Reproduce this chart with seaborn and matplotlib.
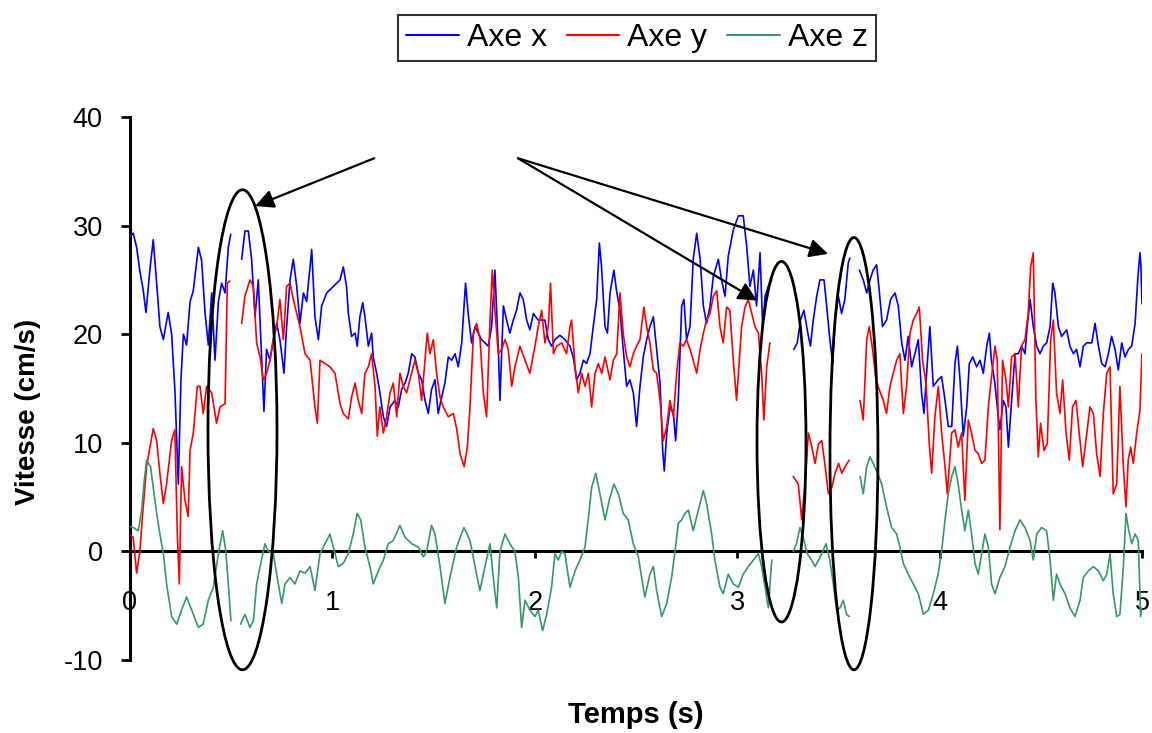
import numpy as np
import pandas as pd
import seaborn as sns
import matplotlib
matplotlib.use("Agg")
import matplotlib.pyplot as plt
from matplotlib.lines import Line2D
from matplotlib.patches import Ellipse

nan = np.nan

# Axe x (blue) : temps (s) / vitesse (cm/s), nan = missing samples
t_x = [
    0.0, 0.016, 0.033, 0.049, 0.066, 0.079, 0.099, 0.115, 0.132, 0.148,
    0.165, 0.189, 0.206, 0.222, 0.239, 0.252, 0.264, 0.280, 0.297, 0.313,
    0.338, 0.354, 0.371, 0.387, 0.404, 0.420, 0.437, 0.453, 0.470, 0.486,
    0.498, 0.520, 0.552, 0.568, 0.585, 0.601, 0.618, 0.634, 0.651, 0.662,
    0.675, 0.692, 0.708, 0.725, 0.741, 0.761, 0.774, 0.791, 0.807, 0.824,
    0.840, 0.857, 0.873, 0.898, 0.914, 0.931, 0.947, 0.972, 1.005, 1.038,
    1.054, 1.070, 1.079, 1.095, 1.112, 1.123, 1.136, 1.150, 1.161, 1.178,
    1.194, 1.202, 1.219, 1.235, 1.252, 1.268, 1.285, 1.309, 1.326, 1.342,
    1.359, 1.375, 1.392, 1.408, 1.425, 1.441, 1.458, 1.474, 1.490, 1.507,
    1.523, 1.540, 1.556, 1.573, 1.589, 1.606, 1.622, 1.639, 1.658, 1.671,
    1.688, 1.705, 1.721, 1.737, 1.754, 1.770, 1.787, 1.803, 1.820, 1.828,
    1.845, 1.861, 1.877, 1.894, 1.910, 1.927, 1.943, 1.960, 1.976, 1.993,
    2.017, 2.050, 2.067, 2.083, 2.100, 2.124, 2.149, 2.174, 2.190, 2.207,
    2.223, 2.240, 2.256, 2.273, 2.289, 2.306, 2.319, 2.330, 2.347, 2.359,
    2.372, 2.391, 2.404, 2.421, 2.437, 2.454, 2.470, 2.487, 2.503, 2.520,
    2.536, 2.553, 2.569, 2.586, 2.602, 2.619, 2.632, 2.640, 2.652, 2.668,
    2.685, 2.696, 2.709, 2.726, 2.737, 2.750, 2.767, 2.783, 2.800, 2.817,
    2.833, 2.849, 2.866, 2.882, 2.907, 2.923, 2.940, 2.956, 2.981, 3.006,
    3.030, 3.047, 3.063, 3.080, 3.096, 3.113, 3.126, 3.138, 3.154, 3.171,
    3.220, 3.280, 3.297, 3.313, 3.330, 3.349, 3.362, 3.376, 3.393, 3.409,
    3.429, 3.439, 3.458, 3.472, 3.483, 3.500, 3.516, 3.532, 3.549, 3.557,
    3.580, 3.604, 3.623, 3.640, 3.656, 3.672, 3.689, 3.702, 3.718, 3.738,
    3.758, 3.780, 3.796, 3.813, 3.829, 3.845, 3.862, 3.878, 3.895, 3.911,
    3.923, 3.936, 3.952, 3.969, 3.993, 4.010, 4.027, 4.043, 4.060, 4.076,
    4.088, 4.101, 4.117, 4.134, 4.147, 4.164, 4.183, 4.200, 4.216, 4.233,
    4.246, 4.256, 4.273, 4.285, 4.298, 4.315, 4.328, 4.340, 4.356, 4.373,
    4.389, 4.405, 4.422, 4.433, 4.447, 4.463, 4.480, 4.496, 4.513, 4.529,
    4.546, 4.559, 4.570, 4.587, 4.603, 4.628, 4.644, 4.661, 4.677, 4.694,
    4.710, 4.727, 4.752, 4.768, 4.785, 4.801, 4.818, 4.834, 4.850, 4.867,
    4.883, 4.900, 4.916, 4.933, 4.949, 4.966, 4.980, 4.990, 4.995, 5.000,
]
v_x = [
    29.0, 29.3, 28.0, 25.8, 24.0, 22.0, 26.0, 28.7, 24.7, 20.7,
    19.5, 22.0, 20.0, 14.9, 6.2, 15.8, 20.0, 19.0, 23.0, 24.0,
    28.0, 26.8, 22.0, 19.0, 23.8, 17.6, 23.0, 24.7, 23.8, 28.0,
    29.2, nan, 26.9, 29.5, 29.5, 26.9, 21.6, 25.0, 17.6, 12.9,
    18.6, 17.6, 19.5, 21.0, 19.5, 16.4, 20.7, 25.0, 26.9, 24.4,
    21.0, 23.8, 23.0, 27.8, 21.6, 19.5, 22.6, 23.8, 24.4, 25.0,
    26.2, 24.4, 21.9, 19.8, 20.1, 18.9, 21.6, 22.9, 21.6, 18.9,
    20.1, 17.9, 16.4, 14.6, 12.4, 11.5, 13.3, 13.9, 13.3, 14.9,
    15.5, 16.4, 18.2, 17.9, 16.4, 15.8, 13.9, 12.7, 14.9, 15.8,
    12.7, 14.2, 15.5, 17.9, 17.6, 18.2, 17.0, 19.2, 24.7, 21.9,
    19.2, 20.7, 20.1, 19.5, 19.2, 18.9, 20.7, 25.9, 18.6, 13.9,
    22.6, 21.3, 20.1, 21.3, 22.2, 23.8, 23.2, 21.3, 20.4, 21.9,
    21.3, 21.3, 19.5, 18.9, 19.5, 19.9, 19.5, 18.9, 17.9, 15.8,
    16.4, 17.6, 17.3, 18.2, 20.7, 23.2, 28.4, 26.2, 20.7, 20.1,
    23.8, 25.9, 24.0, 22.2, 18.6, 15.2, 15.8, 14.6, 11.5, 15.2,
    17.9, 19.5, 20.7, 21.6, 18.6, 15.5, 9.3, 7.4, 10.9, 13.3,
    12.7, 10.2, 13.9, 22.6, 23.2, 19.5, 20.7, 26.9, 29.3, 26.9,
    22.6, 21.0, 22.6, 25.3, 26.9, 25.0, 23.5, 27.2, 29.6, 30.9,
    30.9, 28.1, 24.4, 25.9, 22.6, 27.5, 20.7, 23.5, 24.4, 25.0,
    nan, 18.6, 19.2, 21.3, 22.2, 20.1, 18.9, 21.3, 23.5, 25.0,
    25.0, 23.2, 19.5, 17.3, 21.3, 23.5, 21.9, 23.2, 26.6, 27.0,
    nan, 25.9, 25.0, 23.8, 25.0, 25.9, 26.4, 24.0, 20.7, 21.3,
    23.2, 23.8, 22.6, 19.2, 17.6, 19.8, 17.0, 18.2, 19.5, 14.6,
    12.7, 16.4, 20.7, 15.2, 15.8, 16.1, 13.9, 11.5, 11.5, 17.3,
    18.9, 15.8, 10.6, 13.3, 17.3, 17.9, 17.0, 17.6, 16.4, 18.9,
    20.1, 17.6, 15.5, 13.3, 11.2, 13.9, 13.3, 9.6, 13.9, 18.2,
    18.2, 18.9, 18.2, 20.7, 23.2, 20.7, 18.9, 18.2, 18.9, 19.2,
    20.7, 24.7, 23.8, 20.7, 19.8, 20.4, 18.9, 18.2, 18.6, 17.0,
    18.9, 19.2, 19.2, 21.0, 18.9, 17.3, 17.0, 18.2, 19.8, 18.6,
    16.7, 19.2, 17.9, 18.6, 18.9, 21.0, 25.3, 27.5, 26.2, 22.8,
]

# Axe y (red)
t_y = [
    0.0, 0.016, 0.033, 0.049, 0.063, 0.082, 0.115, 0.132, 0.148, 0.165,
    0.181, 0.206, 0.222, 0.234, 0.244, 0.255, 0.272, 0.288, 0.297, 0.313,
    0.333, 0.346, 0.362, 0.379, 0.404, 0.428, 0.445, 0.470, 0.481, 0.494,
    0.520, 0.552, 0.568, 0.593, 0.610, 0.626, 0.643, 0.659, 0.675, 0.692,
    0.708, 0.725, 0.741, 0.758, 0.774, 0.791, 0.807, 0.824, 0.840, 0.865,
    0.890, 0.914, 0.926, 0.939, 0.964, 0.988, 1.013, 1.038, 1.054, 1.079,
    1.095, 1.112, 1.128, 1.145, 1.161, 1.178, 1.194, 1.211, 1.222, 1.235,
    1.252, 1.268, 1.285, 1.301, 1.318, 1.334, 1.350, 1.367, 1.383, 1.408,
    1.425, 1.441, 1.458, 1.469, 1.482, 1.499, 1.515, 1.532, 1.548, 1.573,
    1.598, 1.615, 1.631, 1.651, 1.667, 1.680, 1.697, 1.713, 1.730, 1.746,
    1.762, 1.779, 1.790, 1.803, 1.820, 1.836, 1.853, 1.869, 1.886, 1.902,
    1.927, 1.952, 1.976, 2.001, 2.017, 2.034, 2.050, 2.067, 2.078, 2.092,
    2.108, 2.133, 2.157, 2.174, 2.182, 2.199, 2.215, 2.232, 2.248, 2.265,
    2.281, 2.298, 2.314, 2.331, 2.347, 2.372, 2.388, 2.405, 2.421, 2.437,
    2.454, 2.470, 2.487, 2.503, 2.520, 2.539, 2.553, 2.569, 2.586, 2.602,
    2.619, 2.635, 2.652, 2.668, 2.685, 2.701, 2.717, 2.734, 2.750, 2.767,
    2.783, 2.800, 2.817, 2.833, 2.849, 2.866, 2.882, 2.899, 2.915, 2.931,
    2.948, 2.964, 2.981, 2.997, 3.022, 3.039, 3.055, 3.072, 3.088, 3.105,
    3.121, 3.132, 3.146, 3.162, 3.220, 3.277, 3.302, 3.319, 3.335, 3.352,
    3.369, 3.385, 3.402, 3.418, 3.435, 3.451, 3.468, 3.484, 3.501, 3.517,
    3.534, 3.553, 3.580, 3.607, 3.623, 3.640, 3.653, 3.669, 3.686, 3.702,
    3.722, 3.738, 3.755, 3.771, 3.788, 3.804, 3.821, 3.837, 3.854, 3.870,
    3.887, 3.900, 3.916, 3.933, 3.949, 3.961, 3.977, 3.994, 4.010, 4.027,
    4.038, 4.060, 4.076, 4.092, 4.109, 4.125, 4.142, 4.158, 4.175, 4.191,
    4.208, 4.224, 4.241, 4.257, 4.274, 4.285, 4.298, 4.311, 4.328, 4.340,
    4.356, 4.373, 4.389, 4.405, 4.422, 4.438, 4.450, 4.463, 4.476, 4.488,
    4.499, 4.516, 4.532, 4.549, 4.562, 4.578, 4.595, 4.608, 4.625, 4.641,
    4.657, 4.674, 4.690, 4.707, 4.723, 4.743, 4.760, 4.776, 4.793, 4.809,
    4.826, 4.842, 4.858, 4.875, 4.891, 4.908, 4.921, 4.932, 4.944, 4.957,
    4.974, 4.990, 5.000,
]
v_y = [
    1.5, 1.3, -2.0, 0.0, 3.5, 7.8, 11.3, 10.2, 7.2, 4.4,
    6.2, 10.2, 11.2, 1.6, -3.0, 7.8, 4.7, 3.2, 9.3, 10.9,
    15.2, 15.2, 12.7, 15.2, 14.6, 11.8, 13.3, 13.6, 24.7, 24.9,
    nan, 21.0, 23.5, 25.0, 24.4, 19.2, 17.9, 15.8, 16.4, 17.6,
    19.5, 20.7, 23.2, 19.5, 24.4, 24.7, 23.2, 21.9, 20.7, 18.2,
    17.6, 13.3, 11.8, 17.6, 17.3, 17.0, 16.4, 13.6, 12.7, 12.2,
    14.2, 15.5, 13.9, 12.7, 16.4, 17.0, 18.2, 15.2, 10.6, 13.3,
    10.9, 12.4, 14.6, 15.5, 12.4, 16.4, 15.2, 14.6, 15.8, 17.6,
    16.4, 13.9, 17.6, 20.1, 18.2, 19.5, 16.4, 14.2, 13.3, 12.4,
    12.7, 11.2, 9.0, 7.8, 9.6, 13.3, 20.1, 21.0, 19.5, 14.6,
    12.4, 21.3, 25.9, 22.2, 18.2, 18.6, 19.5, 18.6, 15.2, 17.0,
    18.9, 17.6, 16.4, 18.9, 20.7, 22.2, 19.2, 20.7, 24.7, 18.2,
    18.9, 19.2, 18.2, 20.7, 21.3, 17.0, 14.6, 16.4, 15.2, 16.4,
    13.3, 16.4, 17.3, 16.4, 17.9, 15.8, 17.6, 18.2, 23.8, 20.1,
    17.9, 17.0, 18.2, 18.9, 19.5, 22.5, 20.7, 19.2, 16.7, 16.4,
    13.9, 10.2, 11.5, 13.9, 12.4, 16.4, 19.2, 18.9, 19.5, 18.6,
    17.6, 16.4, 18.6, 20.1, 21.3, 21.9, 23.5, 24.0, 20.7, 19.2,
    22.5, 22.2, 17.6, 13.9, 20.7, 22.5, 23.2, 21.9, 20.7, 20.1,
    16.4, 12.1, 17.0, 19.2, nan, 6.9, 6.2, 2.9, 6.2, 10.9,
    9.6, 8.1, 9.9, 10.2, 7.8, 5.3, 5.9, 7.2, 8.1, 7.2,
    7.8, 8.4, nan, 13.9, 12.1, 19.5, 20.7, 18.6, 15.8, 14.9,
    13.9, 12.7, 15.2, 16.4, 17.6, 18.2, 12.7, 15.2, 20.1, 21.3,
    21.9, 22.5, 17.6, 15.5, 9.9, 7.2, 12.4, 15.2, 10.9, 7.8,
    5.3, 10.9, 11.2, 9.6, 10.9, 4.7, 12.1, 10.9, 9.3, 9.0,
    8.1, 8.4, 13.3, 16.1, 18.9, 17.6, 2.0, 17.6, 15.8, 13.3,
    17.9, 18.2, 13.3, 18.9, 19.5, 21.9, 26.2, 27.5, 13.9, 8.7,
    11.8, 9.3, 9.9, 19.5, 21.3, 14.6, 12.7, 15.8, 10.9, 8.4,
    13.3, 13.9, 10.9, 7.8, 10.2, 13.3, 12.7, 9.0, 6.9, 12.7,
    16.4, 17.0, 5.3, 6.2, 15.2, 7.8, 4.1, 8.4, 9.6, 8.1,
    10.9, 13.0, 18.2,
]

# Axe z (green)
t_z = [
    0.0, 0.016, 0.041, 0.058, 0.069, 0.082, 0.102, 0.115, 0.132, 0.148,
    0.165, 0.181, 0.206, 0.231, 0.255, 0.280, 0.305, 0.338, 0.362, 0.387,
    0.412, 0.437, 0.458, 0.474, 0.486, 0.499, 0.520, 0.547, 0.568, 0.593,
    0.610, 0.626, 0.643, 0.667, 0.684, 0.708, 0.733, 0.750, 0.766, 0.791,
    0.815, 0.840, 0.865, 0.890, 0.914, 0.939, 0.964, 0.988, 1.013, 1.029,
    1.054, 1.079, 1.103, 1.123, 1.140, 1.161, 1.186, 1.202, 1.227, 1.252,
    1.276, 1.301, 1.334, 1.359, 1.392, 1.425, 1.449, 1.466, 1.490, 1.507,
    1.532, 1.556, 1.581, 1.614, 1.650, 1.680, 1.705, 1.729, 1.754, 1.779,
    1.795, 1.812, 1.828, 1.853, 1.877, 1.902, 1.919, 1.935, 1.952, 1.976,
    2.001, 2.017, 2.039, 2.059, 2.083, 2.100, 2.116, 2.133, 2.149, 2.174,
    2.199, 2.223, 2.248, 2.264, 2.281, 2.302, 2.322, 2.347, 2.368, 2.391,
    2.413, 2.437, 2.462, 2.487, 2.512, 2.528, 2.544, 2.569, 2.586, 2.602,
    2.627, 2.652, 2.676, 2.693, 2.709, 2.726, 2.742, 2.759, 2.783, 2.808,
    2.833, 2.849, 2.874, 2.890, 2.915, 2.931, 2.956, 2.981, 3.006, 3.030,
    3.055, 3.080, 3.105, 3.121, 3.138, 3.154, 3.171, 3.220, 3.277, 3.293,
    3.310, 3.326, 3.346, 3.368, 3.385, 3.402, 3.418, 3.439, 3.458, 3.475,
    3.491, 3.508, 3.524, 3.541, 3.554, 3.580, 3.607, 3.623, 3.640, 3.656,
    3.672, 3.689, 3.714, 3.738, 3.763, 3.788, 3.804, 3.821, 3.845, 3.870,
    3.895, 3.920, 3.945, 3.969, 3.993, 4.010, 4.027, 4.043, 4.060, 4.076,
    4.092, 4.109, 4.125, 4.142, 4.158, 4.175, 4.191, 4.208, 4.224, 4.241,
    4.257, 4.274, 4.298, 4.323, 4.348, 4.373, 4.397, 4.422, 4.447, 4.463,
    4.480, 4.504, 4.529, 4.546, 4.562, 4.578, 4.595, 4.620, 4.644, 4.669,
    4.694, 4.710, 4.735, 4.760, 4.785, 4.809, 4.826, 4.842, 4.858, 4.875,
    4.891, 4.908, 4.921, 4.932, 4.949, 4.966, 4.982, 4.993, 5.000,
]
v_z = [
    2.3, 2.2, 1.9, 3.8, 6.2, 8.4, 7.8, 5.9, 3.5, 1.6,
    -0.2, -3.0, -6.0, -6.7, -5.4, -4.2, -5.4, -7.0, -6.7, -4.5,
    -3.3, -0.2, 1.9, 0.0, -3.0, -6.4, nan, -6.7, -5.8, -7.0,
    -6.4, -3.0, -1.4, 0.7, 0.0, -0.2, -3.0, -4.8, -3.0, -2.4,
    -3.0, -1.8, -2.0, -1.4, -3.6, -0.2, 0.7, 1.6, -0.2, -1.4,
    -1.1, -0.2, 1.6, 3.5, 2.9, 0.4, -1.4, -3.0, -1.8, -0.8,
    0.7, 1.0, 2.4, 1.3, 0.7, 0.4, -0.5, 0.0, 2.4, 1.6,
    -1.4, -4.8, -2.4, 0.4, 2.2, 1.0, -1.4, -3.6, -1.4, 0.7,
    -2.4, -5.2, 0.0, 1.6, 0.7, 0.0, -2.4, -7.0, -4.5, -5.4,
    -6.0, -5.4, -7.3, -5.8, -3.3, -0.2, -0.8, 0.0, -0.2, -3.3,
    -1.8, -0.8, 0.4, 2.9, 5.9, 7.2, 5.3, 2.9, 4.7, 6.2,
    5.3, 3.5, 2.9, 0.7, -0.5, -2.4, -4.2, -2.1, -1.4, -3.6,
    -6.0, -4.8, -2.4, 0.0, 2.6, 2.9, 3.5, 3.8, 1.9, 3.8,
    5.6, 4.4, 1.6, -0.8, -3.3, -3.9, -2.1, -3.0, -3.3, -2.1,
    -1.4, -0.8, -0.2, -1.4, -3.3, -5.2, -0.8, nan, 0.0, 0.7,
    2.2, 1.3, -0.2, -0.8, -1.4, -0.8, -0.2, 0.7, -0.8, -3.0,
    -5.4, -5.2, -4.5, -5.8, -6.0, nan, 6.9, 5.3, 7.8, 8.7,
    8.1, 7.4, 6.2, 4.1, 2.2, 1.6, 0.4, -1.1, -2.1, -3.0,
    -3.9, -5.8, -5.4, -3.9, -2.1, 0.0, 2.9, 5.3, 6.9, 7.8,
    6.2, 3.8, 1.9, 3.8, 1.6, -1.1, -2.1, -0.2, 1.6, 0.4,
    -3.0, -3.9, -2.4, -1.4, 0.4, 1.9, 2.9, 2.2, 1.0, -0.8,
    1.6, 2.2, 1.9, -0.8, -4.5, -2.1, -3.0, -3.9, -5.2, -6.0,
    -4.5, -2.4, -1.8, -1.4, -1.8, -2.7, -2.1, -0.2, -3.9, -6.0,
    -5.8, -1.4, 3.5, 2.2, 0.7, 1.6, 1.0, -6.0, -5.2,
]

series_names = ["Axe x", "Axe y", "Axe z"]
series_colors = ["#0000FF", "#FF0000", "#339966"]
x_ticks = [0, 1, 2, 3, 4, 5]
y_ticks = [-10, 0, 10, 20, 30, 40]


def to_frame(t, v, name):
    assert len(t) == len(v), name
    df = pd.DataFrame({"temps": t, "vitesse": v})
    # a nan sample breaks the line: one segment per run of valid samples
    df["segment"] = name + "_" + df["vitesse"].isna().cumsum().astype(str)
    df["axe"] = name
    return df.dropna()


data = pd.concat([
    to_frame(t_x, v_x, series_names[0]),
    to_frame(t_y, v_y, series_names[1]),
    to_frame(t_z, v_z, series_names[2]),
], ignore_index=True)

sns.set_theme(style="white")
plt.rcParams["font.family"] = ["Liberation Sans", "DejaVu Sans"]
plt.rcParams["axes.unicode_minus"] = False
plt.rcParams["text.color"] = "black"
plt.rcParams["xtick.color"] = "black"
plt.rcParams["ytick.color"] = "black"

fig = plt.figure(figsize=(11.52, 7.33), dpi=100)
ax = fig.add_axes([0.1128, 0.0996, 0.8785, 0.7408])

sns.lineplot(data=data, x="temps", y="vitesse", hue="axe", units="segment",
             estimator=None, sort=False, legend=False,
             palette=dict(zip(series_names, series_colors)),
             linewidth=1.2, ax=ax)

ax.set_xlim(0, 5)
ax.set_ylim(-10, 40)
ax.set_xticks(x_ticks)
ax.set_yticks(y_ticks)
ax.set_xlabel("")
ax.set_ylabel("")

for side in ["top", "right"]:
    ax.spines[side].set_visible(False)
ax.spines["bottom"].set_position(("data", 0))
for side in ["left", "bottom"]:
    ax.spines[side].set_color("black")
    ax.spines[side].set_linewidth(2.2)
    ax.spines[side].set_zorder(1)

ax.tick_params(axis="y", direction="out", length=6.5, width=2, colors="black",
               pad=13, labelsize=19.5, left=True)
ax.tick_params(axis="x", direction="out", length=5, width=2, colors="black",
               pad=23, labelsize=19.5, bottom=True)

# ellipses and arrows marking the gaps
for (cx, cy, w, h) in [(0.556, 11.2, 0.341, 44.2), (3.219, 10.1, 0.242, 33.2),
                       (3.577, 9.0, 0.237, 39.8)]:
    ax.add_patch(Ellipse((cx, cy), w, h, fill=False, edgecolor="black",
                         linewidth=2, clip_on=False, zorder=5))

for (tail, tip) in [((1.207, 36.2), (0.618, 31.8)), ((1.917, 36.2), (3.098, 23.1)),
                    ((1.917, 36.2), (3.449, 27.4))]:
    ax.annotate("", xy=tip, xytext=tail, annotation_clip=False,
                arrowprops=dict(arrowstyle="-|>", color="black", lw=1.6,
                                mutation_scale=28, shrinkA=0, shrinkB=0))

fig.text(636 / 1152, 1 - 715 / 733, "Temps (s)", ha="center", va="center",
         fontsize=21, fontweight="bold")
fig.text(28 / 1152, 1 - 412 / 733, "Vitesse (cm/s)", ha="center", va="center",
         rotation=90, fontsize=20, fontweight="bold")

handles = [Line2D([0], [0], color=c, linewidth=1.5) for c in series_colors]
leg = fig.legend(handles, series_names, loc="center", ncol=3,
                 bbox_to_anchor=(637 / 1152, 1 - 38 / 733), fontsize=23,
                 frameon=True, fancybox=False, shadow=False,
                 handlelength=1.65, handletextpad=0.25, columnspacing=0.62,
                 borderpad=0.25, borderaxespad=0)
leg.get_frame().set_edgecolor("black")
leg.get_frame().set_linewidth(1.5)

fig.savefig("out.png", dpi=100)
